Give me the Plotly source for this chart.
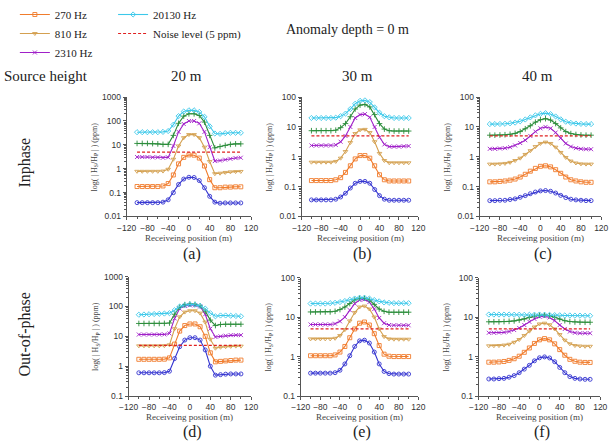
import math
import plotly.graph_objects as go

W, H = 616, 444

# ---------------- data ----------------
x_pos = [-100, -90, -80, -70, -60, -50, -40, -30, -20, -10, 0,
         10, 20, 30, 40, 50, 60, 70, 80, 90, 100]
noise_x = [-100, 100]
noise_y = [5, 5]

freq_names = ["90 Hz", "270 Hz", "810 Hz", "2310 Hz", "6930 Hz", "20130 Hz"]

# (a) Inphase, source height 20 m
a_90 = [0.038, 0.038, 0.038, 0.038, 0.038, 0.04, 0.05, 0.1, 0.22, 0.37, 0.44,
        0.43, 0.32, 0.16, 0.07, 0.04, 0.036, 0.037, 0.037, 0.037, 0.037]
a_270 = [0.18, 0.18, 0.18, 0.18, 0.18, 0.19, 0.24, 0.55, 1.6, 3.0, 3.8,
         3.7, 2.8, 1.3, 0.35, 0.16, 0.16, 0.17, 0.17, 0.175, 0.175]
a_810 = [0.78, 0.78, 0.78, 0.78, 0.78, 0.8, 0.95, 2.5, 9, 20, 27,
         27, 20, 8, 2, 0.62, 0.65, 0.7, 0.74, 0.76, 0.77]
a_2310 = [3.1, 3.1, 3.1, 3.0, 3.0, 2.9, 3.0, 9, 35, 75, 100,
          100, 80, 35, 8, 2.1, 2.2, 2.4, 2.6, 2.8, 2.9]
a_6930 = [11.5, 11.5, 11.5, 11.3, 11, 10.5, 10.5, 25, 80, 160, 200,
          200, 170, 90, 25, 7.5, 8.5, 9.5, 10.5, 11, 11]
a_20130 = [34, 34, 34, 34, 34, 35, 38, 70, 160, 250, 280,
           280, 240, 150, 60, 30, 29, 31, 32, 32, 32]

# (b) Inphase, 30 m
b_90 = [0.036, 0.036, 0.036, 0.036, 0.036, 0.038, 0.045, 0.06, 0.09, 0.13, 0.15,
        0.15, 0.13, 0.08, 0.05, 0.038, 0.035, 0.035, 0.035, 0.035, 0.035]
b_270 = [0.16, 0.16, 0.16, 0.16, 0.16, 0.17, 0.2, 0.3, 0.5, 0.85, 1.1,
         1.1, 0.9, 0.5, 0.25, 0.17, 0.155, 0.155, 0.155, 0.155, 0.155]
b_810 = [0.66, 0.66, 0.66, 0.66, 0.66, 0.7, 0.9, 1.5, 3, 6, 8,
         8.3, 6.5, 3.2, 1.3, 0.75, 0.63, 0.63, 0.63, 0.63, 0.63]
b_2310 = [2.4, 2.4, 2.4, 2.4, 2.4, 2.5, 3.2, 5, 10, 20, 26,
          27, 21, 10, 4.5, 2.6, 2.2, 2.2, 2.2, 2.25, 2.3]
b_6930 = [7.5, 7.5, 7.5, 7.5, 7.5, 7.8, 9.5, 13, 22, 40, 54,
          57, 47, 26, 13, 8.5, 7.5, 7.3, 7.3, 7.3, 7.3]
b_20130 = [20, 20, 20, 20, 20, 20.5, 23, 28, 40, 60, 75,
           78, 68, 45, 30, 23, 21, 20, 20, 20, 20]

# (c) Inphase, 40 m
c_90 = [0.034, 0.034, 0.035, 0.035, 0.037, 0.039, 0.044, 0.05, 0.058, 0.066, 0.072,
        0.074, 0.07, 0.061, 0.051, 0.043, 0.038, 0.036, 0.035, 0.034, 0.034]
c_270 = [0.145, 0.145, 0.15, 0.155, 0.165, 0.18, 0.21, 0.26, 0.33, 0.41, 0.48,
         0.5, 0.46, 0.37, 0.28, 0.21, 0.17, 0.155, 0.145, 0.14, 0.14]
c_810 = [0.57, 0.57, 0.58, 0.6, 0.65, 0.75, 0.9, 1.2, 1.6, 2.2, 2.8,
         3.1, 2.8, 2.1, 1.4, 0.95, 0.72, 0.62, 0.58, 0.57, 0.57]
c_2310 = [1.85, 1.85, 1.9, 1.95, 2.1, 2.4, 2.9, 3.6, 5.0, 7.0, 9,
          10, 9, 6.5, 4.2, 2.8, 2.2, 1.95, 1.85, 1.8, 1.8]
c_6930 = [5.3, 5.3, 5.4, 5.5, 5.7, 6.1, 7.0, 8.7, 11, 14.5, 17.5,
          19, 17, 13, 9.3, 7, 6, 5.6, 5.4, 5.3, 5.3]
c_20130 = [12.5, 12.5, 12.6, 12.8, 13.3, 14, 15.5, 17.8, 21, 24.5, 27.5,
           29, 27, 22.5, 18, 15, 13.7, 13, 12.7, 12.5, 12.5]

# (d) Out-of-phase, 20 m
d_90 = [0.6, 0.6, 0.6, 0.6, 0.6, 0.61, 0.68, 1.8, 4.5, 7.5, 9,
        9, 7.5, 3.5, 1.0, 0.5, 0.52, 0.54, 0.55, 0.55, 0.55]
d_270 = [1.7, 1.7, 1.7, 1.7, 1.7, 1.72, 1.9, 5.5, 15, 23, 26,
         26, 21, 10, 2.8, 1.4, 1.45, 1.5, 1.55, 1.6, 1.6]
d_810 = [4.8, 4.8, 4.8, 4.8, 4.8, 4.85, 5.2, 18, 45, 65, 72,
         72, 60, 30, 8, 4, 4.3, 4.5, 4.6, 4.7, 4.7]
d_2310 = [11.5, 11.5, 11.5, 11.5, 11.5, 11.6, 12.5, 40, 85, 105, 110,
          110, 100, 55, 18, 9.5, 10, 10.5, 11, 11, 11]
d_6930 = [27, 27, 27, 27, 27, 27.2, 28, 55, 95, 115, 120,
          118, 105, 70, 35, 23, 25, 25.5, 25.5, 25.5, 25.5]
d_20130 = [53, 54, 55, 56, 57, 58, 60, 75, 100, 112, 118,
           115, 105, 85, 60, 47, 50, 50, 49, 48, 47]

# (e) Out-of-phase, 30 m
e_90 = [0.38, 0.38, 0.38, 0.38, 0.38, 0.39, 0.45, 0.65, 1.05, 1.8, 2.5,
        2.6, 2.2, 1.3, 0.65, 0.42, 0.37, 0.36, 0.36, 0.36, 0.36]
e_270 = [1.05, 1.05, 1.05, 1.05, 1.05, 1.1, 1.3, 1.8, 3, 5, 7,
         7.5, 6.3, 3.8, 1.9, 1.15, 1.02, 1.0, 1.0, 1.0, 1.0]
e_810 = [2.8, 2.8, 2.8, 2.8, 2.8, 2.9, 3.4, 4.8, 8, 13, 18,
         19, 16, 10, 5, 3.2, 2.8, 2.75, 2.75, 2.75, 2.75]
e_2310 = [6.5, 6.5, 6.5, 6.5, 6.5, 6.8, 7.8, 10, 15, 22, 27,
          28, 24, 16, 9.5, 7, 6.3, 6.2, 6.2, 6.2, 6.2]
e_6930 = [13.5, 13.5, 13.5, 13.5, 13.5, 14, 15.5, 18, 22, 27, 30,
          30, 27, 21, 16, 14, 13.3, 13.3, 13.3, 13.3, 13.3]
e_20130 = [22, 22, 22, 22, 22.5, 23, 24, 25.5, 27.5, 29.5, 31,
           31, 29.5, 27, 25, 23.5, 23, 22.5, 22.5, 22.5, 22.5]

# (f) Out-of-phase, 40 m
f_90 = [0.27, 0.27, 0.275, 0.28, 0.3, 0.33, 0.39, 0.48, 0.6, 0.78, 0.93,
        0.98, 0.92, 0.74, 0.53, 0.39, 0.31, 0.28, 0.27, 0.265, 0.265]
f_270 = [0.72, 0.72, 0.73, 0.75, 0.8, 0.88, 1.02, 1.28, 1.65, 2.15, 2.65,
         2.85, 2.65, 2.1, 1.5, 1.08, 0.85, 0.76, 0.72, 0.71, 0.71]
f_810 = [1.87, 1.88, 1.9, 1.95, 2.05, 2.3, 2.7, 3.4, 4.4, 5.6, 6.7,
         7.0, 6.4, 5.0, 3.6, 2.6, 2.1, 1.9, 1.85, 1.82, 1.82]
f_2310 = [4.0, 4.0, 4.05, 4.1, 4.3, 4.7, 5.3, 6.3, 7.6, 9.0, 10.2,
          10.5, 9.8, 8.1, 6.3, 5.0, 4.3, 4.0, 3.9, 3.9, 3.9]
f_6930 = [7.6, 7.6, 7.6, 7.7, 7.8, 8.0, 8.4, 9.0, 9.8, 10.6, 11.1,
          11.2, 10.8, 9.9, 8.9, 8.1, 7.7, 7.5, 7.4, 7.4, 7.4]
f_20130 = [11.6, 11.6, 11.6, 11.6, 11.6, 11.5, 11.5, 11.4, 11.4, 11.5, 11.6,
           11.5, 11.4, 11.2, 11.1, 11.0, 11.0, 10.9, 10.9, 10.8, 10.8]

x_ticks = [-120, -80, -40, 0, 40, 80, 120]
y_ticks_all = [0.01, 0.1, 1, 10, 100, 1000]
y_ticklabels_all = ["0.01", "0.1", "1", "10", "100", "1000"]

panel_letters = ["(a)", "(b)", "(c)", "(d)", "(e)", "(f)"]
col_titles = ["20 m", "30 m", "40 m"]
row_titles = ["Inphase", "Out-of-phase"]

# ---------------- styles ----------------
colors = ["#3535d0", "#f07c2c", "#d4a050", "#a020c8", "#2a8c3a", "#3cc8ea"]
symbols = ["circle-open", "square-open", "triangle-down-open",
           "x-thin-open", "cross-thin-open", "diamond-open"]
legend_of = [None, "legend", "legend", "legend", None, "legend2"]

# panel geometry in pixels: x0, x1, ytop, ybottom, log range
geom = [
    (120, 248, 86, 211, [-2, 3]),
    (300, 420, 86, 211, [-2, 2]),
    (483, 608, 86, 211, [-2, 2]),
    (122, 248, 274, 399, [-1, 3]),
    (299, 420, 275, 399, [-1, 2]),
    (482, 607, 275, 399, [-1, 2]),
]

panels = [
    [a_90, a_270, a_810, a_2310, a_6930, a_20130],
    [b_90, b_270, b_810, b_2310, b_6930, b_20130],
    [c_90, c_270, c_810, c_2310, c_6930, c_20130],
    [d_90, d_270, d_810, d_2310, d_6930, d_20130],
    [e_90, e_270, e_810, e_2310, e_6930, e_20130],
    [f_90, f_270, f_810, f_2310, f_6930, f_20130],
]


def px(x):
    return x / W


def py(y):
    return 1 - y / H


SERIF = "Liberation Serif, Times New Roman, serif"
SANS = "Liberation Sans, Arial, sans-serif"
AXC = "#555555"

fig = go.Figure()
annotations = []

for i, (series, g) in enumerate(zip(panels, geom)):
    n = i + 1
    xa = "x" if n == 1 else f"x{n}"
    ya = "y" if n == 1 else f"y{n}"
    for k, vals in enumerate(series):
        show = (i == 0 and legend_of[k] is not None)
        fig.add_trace(go.Scatter(
            x=x_pos, y=vals, xaxis=xa, yaxis=ya, mode="lines+markers",
            name=freq_names[k],
            line=dict(color=colors[k], width=1.1),
            marker=dict(symbol=symbols[k], size=4, color=colors[k],
                        line=dict(color=colors[k], width=0.9)),
            showlegend=show,
            legend=legend_of[k] if legend_of[k] else "legend",
            legendrank=[0, 1, 2, 3, 0, 1][k],
        ))
    fig.add_trace(go.Scatter(
        x=noise_x, y=noise_y, xaxis=xa, yaxis=ya, mode="lines",
        name="Noise level (5 ppm)",
        line=dict(color="#e02020", width=1.2, dash="3px,2px"),
        showlegend=(i == 0), legend="legend2", legendrank=2,
    ))

    x0, x1, yt, yb, yr = g
    lo, hi = yr
    tv = [v for v in y_ticks_all if lo - 1e-9 <= math.log10(v) <= hi + 1e-9]
    tt = [y_ticklabels_all[y_ticks_all.index(v)] for v in tv]
    key_x = "xaxis" if n == 1 else f"xaxis{n}"
    key_y = "yaxis" if n == 1 else f"yaxis{n}"
    fig.update_layout(**{
        key_x: dict(domain=[px(x0), px(x1)], anchor=ya, range=[-120, 120],
                    tickvals=x_ticks, tickangle=0, ticks="outside", ticklen=3,
                    tickwidth=1, tickcolor=AXC, showline=True, linecolor=AXC,
                    linewidth=1, showgrid=False, zeroline=False,
                    tickfont=dict(family=SANS, size=8.5, color="#333333"),
                    minor=dict(ticks="outside", ticklen=2, dtick=20,
                               tickcolor=AXC, showgrid=False)),
        key_y: dict(domain=[py(yb), py(yt)], anchor=xa, type="log", range=yr,
                    tickvals=tv, ticktext=tt, ticks="outside", ticklen=3,
                    tickwidth=1, tickcolor=AXC, showline=True, linecolor=AXC,
                    linewidth=1, showgrid=False, zeroline=False,
                    tickfont=dict(family=SANS, size=8.5, color="#333333"),
                    minor=dict(ticks="outside", ticklen=2, dtick="D1",
                               tickcolor=AXC, showgrid=False)),
    })

    cx = (x0 + x1) / 2
    top_row = i < 3
    # x-axis title
    annotations.append(dict(
        x=px(cx), y=py(233 if top_row else 421), xref="paper", yref="paper",
        text="Receiveing position (m)", showarrow=False,
        font=dict(family=SERIF, size=9, color="#444444"),
        xanchor="center", yanchor="middle"))
    # y-axis title
    annotations.append(dict(
        x=px(x0 - 33), y=py((yt + yb) / 2), xref="paper", yref="paper",
        text="log( | H<sub>S</sub>/H<sub>P</sub> | ) (ppm)", showarrow=False,
        textangle=-90, font=dict(family=SERIF, size=8, color="#444444"),
        xanchor="center", yanchor="middle"))
    # panel letter
    annotations.append(dict(
        x=px(cx + 3), y=py(250 if top_row else 437), xref="paper", yref="paper",
        text=panel_letters[i], showarrow=False,
        font=dict(family=SERIF, size=16, color="#222222"),
        xanchor="center", yanchor="middle"))

# column titles
for j, t in enumerate(col_titles):
    x0, x1 = geom[j][0], geom[j][1]
    annotations.append(dict(
        x=px((x0 + x1) / 2 - 3), y=py(64), xref="paper", yref="paper", text=t,
        showarrow=False, font=dict(family=SERIF, size=15, color="#222222"),
        xanchor="center", yanchor="middle"))

annotations.append(dict(
    x=px(82), y=py(64), xref="paper", yref="paper", text="Source height",
    showarrow=False, font=dict(family=SERIF, size=15, color="#222222"),
    xanchor="right", yanchor="middle"))
annotations.append(dict(
    x=px(347), y=py(15), xref="paper", yref="paper", text="Anomaly depth = 0 m",
    showarrow=False, font=dict(family=SERIF, size=14, color="#222222"),
    xanchor="center", yanchor="middle"))
annotations.append(dict(
    x=px(15), y=py(155), xref="paper", yref="paper", text=row_titles[0],
    showarrow=False, textangle=-90,
    font=dict(family=SERIF, size=16, color="#222222"),
    xanchor="center", yanchor="middle"))
annotations.append(dict(
    x=px(15), y=py(335), xref="paper", yref="paper", text=row_titles[1],
    showarrow=False, textangle=-90,
    font=dict(family=SERIF, size=16, color="#222222"),
    xanchor="center", yanchor="middle"))

fig.update_layout(
    width=W, height=H,
    margin=dict(l=0, r=0, t=0, b=0),
    paper_bgcolor="white", plot_bgcolor="white",
    annotations=annotations,
    legend=dict(x=px(5), y=py(-16), xanchor="left", yanchor="top",
                orientation="v", bgcolor="rgba(0,0,0,0)",
                font=dict(family=SERIF, size=11, color="#222222"),
                itemwidth=30, tracegroupgap=0),
    legend2=dict(x=px(106), y=py(-16), xanchor="left", yanchor="top",
                 orientation="v", bgcolor="rgba(0,0,0,0)",
                 font=dict(family=SERIF, size=11, color="#222222"),
                 itemwidth=30, tracegroupgap=0),
)

fig.write_html("out.html")
